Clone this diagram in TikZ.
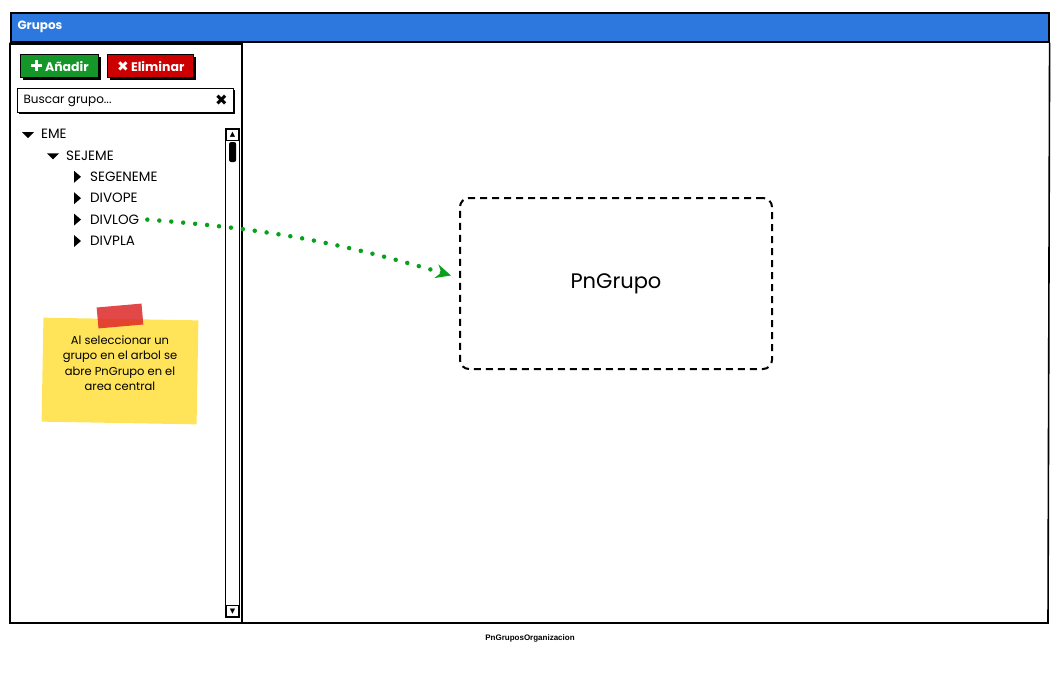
\documentclass[tikz,border=0pt]{standalone}
\usepackage{fontspec}
\setmainfont{Poppins}
\newfontfamily\symfont{DejaVu Sans}
\newfontfamily\capfont{Liberation Sans}
\usetikzlibrary{arrows.meta,positioning,shadows}

\definecolor{titleblue}{RGB}{44,120,222}
\definecolor{addgreen}{RGB}{20,150,40}
\definecolor{delred}{RGB}{204,0,0}
\definecolor{noteyellow}{RGB}{255,228,90}
\definecolor{tapered}{RGB}{222,40,40}
\definecolor{linkgreen}{RGB}{10,160,30}

\begin{document}
\begin{tikzpicture}[x=1pt, y=-1pt, node distance=0pt, >={Stealth[length=15pt, width=14pt]},
    button/.style={draw, line width=1.2pt, text=white, anchor=north west, minimum height=23pt, inner xsep=5pt,
        font=\fontsize{12.5}{14}\selectfont\bfseries,
        drop shadow={opacity=1, fill=black, shadow xshift=2pt, shadow yshift=-2pt}},
    item/.style={anchor=west, inner sep=0pt, minimum height=21pt, font=\fontsize{13.5}{15}\selectfont}]
    \useasboundingbox (0,0) rectangle (1060,680);

    % Window
    \node (titlebar) [draw, fill=titleblue, line width=1.6pt, anchor=north west, minimum width=1038pt, minimum height=29pt] at (10,12) {};
    \node (title) [anchor=west, text=white, font=\fontsize{12}{14}\selectfont\bfseries] at ([xshift=4pt]titlebar.west) {Grupos};
    \draw[line width=1.6pt] (titlebar.south west) -- (10,623) -- (1048,623) -- (titlebar.south east);
    \draw[line width=1.4pt] (10,44) -- (242,44) -- (242,623);

    % Toolbar
    \node (add) [button, fill=addgreen, minimum width=78pt] at (20,54) {{\symfont\fontsize{15}{14}\selectfont ✚}\,Añadir};
    \node (del) [button, fill=delred, minimum width=86pt, right=8pt of add.north east, anchor=north west] {{\symfont\fontsize{14}{14}\selectfont ✖}\,Eliminar};
    \node (search) [draw, line width=1.2pt, anchor=north west, minimum width=216pt, minimum height=24pt,
        drop shadow={opacity=1, fill=black, shadow xshift=1.5pt, shadow yshift=-1.5pt}, fill=white] at (17,88) {};
    \node (searchtext) [anchor=west, font=\fontsize{12}{14}\selectfont] at ([xshift=3pt]search.west) {Buscar grupo...};
    \node (clear) [anchor=east, font=\symfont\fontsize{15}{14}\selectfont\bfseries] at ([xshift=-3pt]search.east) {✖};

    % Tree
    \node (eme) [item] at (41,134) {EME};
    \node (sejeme) [item, below=0pt of eme.south west, anchor=north west, xshift=25pt] {SEJEME};
    \node (segeneme) [item, below=0pt of sejeme.south west, anchor=north west, xshift=24pt] {SEGENEME};
    \node (divope) [item, below=0pt of segeneme.south west, anchor=north west] {DIVOPE};
    \node (divlog) [item, below=0pt of divope.south west, anchor=north west] {DIVLOG};
    \node (divpla) [item, below=0pt of divlog.south west, anchor=north west] {DIVPLA};
    \fill ([shift={(-19,-2)}]eme.west) -- ++(12,0) -- ++(-6,6) -- cycle;
    \fill ([shift={(-19,-2)}]sejeme.west) -- ++(12,0) -- ++(-6,6) -- cycle;
    \fill ([shift={(-16,-6)}]segeneme.west) -- ++(0,12) -- ++(7,-6) -- cycle;
    \fill ([shift={(-16,-6)}]divope.west) -- ++(0,12) -- ++(7,-6) -- cycle;
    \fill ([shift={(-16,-6)}]divlog.west) -- ++(0,12) -- ++(7,-6) -- cycle;
    \fill ([shift={(-16,-6)}]divpla.west) -- ++(0,12) -- ++(7,-6) -- cycle;

    % Scrollbar
    \node (scroll) [draw, line width=1.2pt, anchor=north west, minimum width=14pt, minimum height=489pt] at (225,128) {};
    \node (up) [draw, line width=0.8pt, anchor=north, minimum width=12pt, minimum height=11pt, inner sep=0pt,
        font=\symfont\fontsize{7}{8}\selectfont] at ([yshift=-1pt]scroll.north) {▲};
    \node (thumb) [fill, rounded corners=2pt, minimum width=7pt, minimum height=20pt, inner sep=0pt, below=1pt of up] {};
    \node (down) [draw, line width=0.8pt, anchor=south, minimum width=12pt, minimum height=11pt, inner sep=0pt,
        font=\symfont\fontsize{7}{8}\selectfont] at ([yshift=1pt]scroll.south) {▼};

    % Sticky note
    \node (note) [fill=noteyellow, rotate=-1, minimum width=155pt, minimum height=104pt] at (120,371) {};
    \node (tape) [fill=tapered, opacity=0.85, rotate=5, minimum width=45pt, minimum height=21pt] at (120,316) {};
    \node (notetext) [align=center, font=\fontsize{11.5}{15.5}\selectfont] at (120,363) {Al seleccionar un\\grupo en el arbol se\\abre PnGrupo en el\\area central};

    % Central area
    \node (pngrupo) [draw, line width=2pt, dash pattern=on 7pt off 5pt, rounded corners=9pt,
        minimum width=312pt, minimum height=171pt, font=\fontsize{21}{24}\selectfont] at (616,283.5) {PnGrupo};

    % Link
    \draw[->, linkgreen, line width=4.5pt, line cap=round, dash pattern=on 0pt off 12pt]
        ([xshift=8pt]divlog.east) to[bend left=6] ([shift={(-8,-8)}]pngrupo.west);

    % Caption
    \node (caption) [font=\capfont\bfseries\fontsize{8}{10}\selectfont] at (530,638) {PnGruposOrganizacion};
\end{tikzpicture}
\end{document}
